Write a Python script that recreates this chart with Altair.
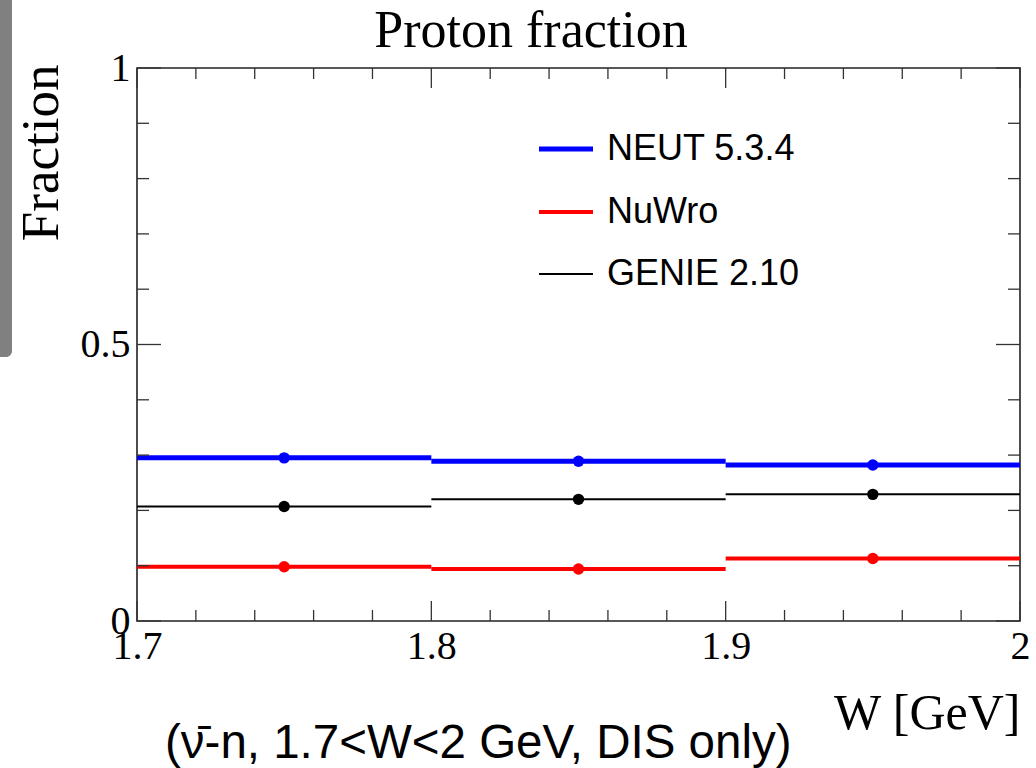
import altair as alt
import pandas as pd

# ---- data ----
bin_lo = [1.7, 1.8, 1.9]
bin_hi = [1.8, 1.9, 2.0]
bin_center = [1.75, 1.85, 1.95]
neut = [0.295, 0.289, 0.282]
nuwro = [0.098, 0.094, 0.113]
genie = [0.207, 0.220, 0.229]

series_names = ["NEUT 5.3.4", "NuWro", "GENIE 2.10"]
series_values = [neut, nuwro, genie]
series_colors = ["#0000ff", "#ff0000", "#000000"]
series_widths = [5, 4, 2]

x_major = [1.7, 1.8, 1.9, 2.0]
x_minor = [1.72, 1.74, 1.76, 1.78, 1.82, 1.84, 1.86, 1.88, 1.92, 1.94, 1.96, 1.98]
y_major = [0.0, 0.5, 1.0]
y_minor = [0.1, 0.2, 0.3, 0.4, 0.6, 0.7, 0.8, 0.9]

W, H = 883, 553
SERIF = "Liberation Serif"
SANS = "Liberation Sans"

xscale = alt.Scale(domain=[1.7, 2.0], nice=False, zero=False)
yscale = alt.Scale(domain=[0, 1], nice=False, zero=True)
xaxis = alt.Axis(values=x_major, format="~g", ticks=False, grid=False, domain=False,
                 labelFont=SERIF, labelFontSize=40, labelColor="black", labelPadding=5,
                 labelFlush=False, labelOverlap=False,
                 title="W [GeV]", titleFont=SERIF, titleFontSize=50, titleFontWeight="normal",
                 titleColor="black", titleX=W, titleY=107, titleAlign="right",
                 titleBaseline="alphabetic")
yaxis = alt.Axis(values=y_major, format="~g", ticks=False, grid=False, domain=False,
                 labelFont=SERIF, labelFontSize=40, labelColor="black", labelPadding=7,
                 labelFlush=False, labelOverlap=False,
                 title="Fraction", titleFont=SERIF, titleFontSize=53, titleFontWeight="normal",
                 titleColor="black", titleX=-80, titleY=-4, titleAngle=270,
                 titleAlign="right", titleBaseline="alphabetic")

layers = []

# histogram bins and bin-centre markers
for name, vals, col, sw in zip(series_names, series_values, series_colors, series_widths):
    df = pd.DataFrame({"lo": bin_lo, "hi": bin_hi, "c": bin_center, "v": vals})
    base = alt.Chart(df)
    layers.append(base.mark_rule(color=col, strokeWidth=sw).encode(
        x=alt.X("lo:Q", scale=xscale, axis=xaxis),
        x2="hi:Q",
        y=alt.Y("v:Q", scale=yscale, axis=yaxis)))
    layers.append(base.mark_circle(color=col, size=130, opacity=1).encode(
        x=alt.X("c:Q", scale=xscale, axis=xaxis),
        y=alt.Y("v:Q", scale=yscale, axis=yaxis)))

# inward tick marks (ROOT style) on all four sides
def yticks(vals, length):
    d = alt.Chart(pd.DataFrame({"t": vals}))
    left = d.mark_rule(color="#333", strokeWidth=1.3).encode(
        y=alt.Y("t:Q", scale=yscale, axis=yaxis), x=alt.value(0), x2=alt.value(length))
    right = d.mark_rule(color="#333", strokeWidth=1.3).encode(
        y=alt.Y("t:Q", scale=yscale, axis=yaxis), x=alt.value(W - length), x2=alt.value(W))
    return [left, right]

def xticks(vals, length):
    d = alt.Chart(pd.DataFrame({"t": vals}))
    bottom = d.mark_rule(color="#333", strokeWidth=1.3).encode(
        x=alt.X("t:Q", scale=xscale, axis=xaxis), y=alt.value(H - length), y2=alt.value(H))
    top = d.mark_rule(color="#333", strokeWidth=1.3).encode(
        x=alt.X("t:Q", scale=xscale, axis=xaxis), y=alt.value(0), y2=alt.value(length))
    return [bottom, top]

layers += yticks(y_major, 24) + yticks(y_minor, 12)
layers += xticks(x_major, 20) + xticks(x_minor, 11)

# legend (drawn by hand, ROOT style)
leg_y = [81, 144, 206]
for name, col, sw, ly in zip(series_names, series_colors, series_widths, leg_y):
    d = alt.Chart(pd.DataFrame({"n": [name]}))
    layers.append(d.mark_rule(color=col, strokeWidth=sw).encode(
        x=alt.value(402), x2=alt.value(456), y=alt.value(ly)))
    layers.append(d.mark_text(font=SANS, fontSize=36, align="left", baseline="middle",
                              color="black").encode(
        text="n:N", x=alt.value(470), y=alt.value(ly)))

# title and caption
title_df = pd.DataFrame({"t": ["Proton fraction"]})
layers.append(alt.Chart(title_df).mark_text(font=SERIF, fontSize=52, align="center",
                                            baseline="alphabetic", color="black").encode(
    text="t:N", x=alt.value(394), y=alt.value(-21)))
cap_df = pd.DataFrame({"t": ["(\u03bd\u0304-n, 1.7<W<2 GeV, DIS only)"]})
layers.append(alt.Chart(cap_df).mark_text(font=SANS, fontSize=47.5, align="left",
                                          baseline="alphabetic", color="black").encode(
    text="t:N", x=alt.value(28), y=alt.value(690)))

# slide artefact: grey bar on the far left
bar_df = pd.DataFrame({"k": [1]})
layers.append(alt.Chart(bar_df).mark_rect(color="#808080", cornerRadiusBottomRight=10).encode(
    x=alt.value(-137), x2=alt.value(-125), y=alt.value(-68), y2=alt.value(289)))

chart = alt.layer(*layers).properties(
    width=W, height=H,
    padding={"left": 137, "top": 68, "right": 16, "bottom": 147},
    autosize=alt.AutoSizeParams(type="none"),
    background="white",
).configure_view(stroke="#222", strokeWidth=1.6)

chart.save("out.html", embed_options={"renderer": "svg", "actions": False})
